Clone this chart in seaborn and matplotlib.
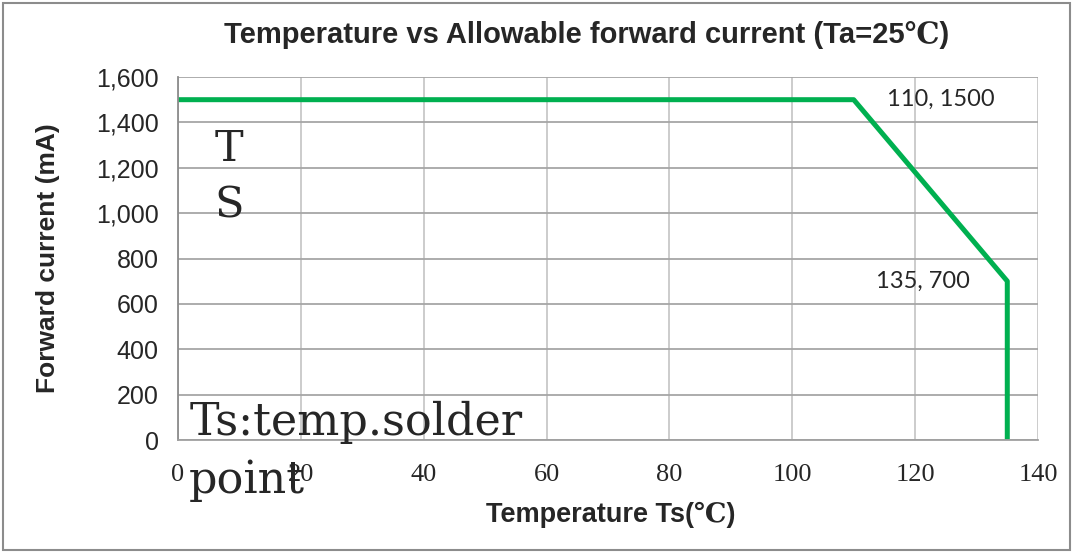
import matplotlib
matplotlib.use("Agg")
import matplotlib.pyplot as plt
import seaborn as sns
import pandas as pd
from matplotlib.ticker import FuncFormatter
from matplotlib.patches import Rectangle

temperature = [0, 110, 135, 135]
current = [1500, 1500, 700, 0]
x_ticks = [0, 20, 40, 60, 80, 100, 120, 140]
y_ticks = [0, 200, 400, 600, 800, 1000, 1200, 1400, 1600]
labels_pts = [("110, 1500", 110, 1500), ("135, 700", 135, 700)]

sns.set_style("white")
plt.rcParams['font.family'] = ['Liberation Sans', 'DejaVu Sans']

df = pd.DataFrame({"Temperature": temperature, "Current": current})

W, H = 1073, 553
fig = plt.figure(figsize=(W / 100, H / 100), dpi=100)
ax = fig.add_axes([178 / W, 1 - 440 / H, (1038 - 178) / W, (440 - 77) / H])
sns.lineplot(data=df, x="Temperature", y="Current", sort=False, ax=ax,
             color="#00B050", linewidth=3.6, estimator=None)

ax.set_xlim(0, 140)
ax.set_ylim(0, 1600)
ax.set_xticks(x_ticks)
ax.set_yticks(y_ticks)
ax.yaxis.set_major_formatter(FuncFormatter(lambda v, p: f"{int(v):,}"))
ax.yaxis.grid(True, color="#a6a6a6", linewidth=1.3)
ax.xaxis.grid(True, color="#c8c8c8", linewidth=1.3)
ax.set_axisbelow(True)
for s in ["top", "right"]:
    ax.spines[s].set_visible(False)
ax.spines["left"].set_color("#8c8c8c")
ax.spines["bottom"].set_color("#a0a0a0")
for s in ["left", "bottom"]:
    ax.spines[s].set_linewidth(1.3)
ax.tick_params(axis="both", length=0)
ax.tick_params(axis="y", labelsize=18, pad=14)
for lbl in ax.get_xticklabels():
    lbl.set_fontfamily(["Liberation Serif", "DejaVu Serif"])
    lbl.set_fontsize(19)
ax.tick_params(axis="x", pad=17)

mixed = ["Liberation Sans", "DejaVu Serif"]
ax.set_xlabel("Temperature Ts(℃)", fontsize=19.5, fontweight="bold", family=mixed)
ax.set_ylabel("Forward current (mA)", fontsize=19, fontweight="bold")
ax.xaxis.set_label_coords((611 - 178) / 860, (440 - 515) / 363)
ax.yaxis.set_label_coords((48 - 178) / 860, 0.5)
ax.xaxis.label.set_va("center")
ax.yaxis.label.set_va("center")
fig.text(587 / W, 1 - 35 / H, "Temperature vs Allowable forward current (Ta=25℃)",
         fontsize=21, fontweight="bold", ha="center", va="center", family=mixed)

# data labels
lab_font = ["Lato", "DejaVu Sans"]
ax.annotate(labels_pts[0][0], (labels_pts[0][1], labels_pts[0][2]), xytext=(63, 0),
            textcoords="offset points", fontsize=17, family=lab_font,
            ha="center", va="center")
ax.annotate(labels_pts[1][0], (labels_pts[1][1], labels_pts[1][2]), xytext=(-61, 0),
            textcoords="offset points", fontsize=17, family=lab_font,
            ha="center", va="center")

serif = ["DejaVu Serif", "Liberation Serif"]
fig.text(229 / W, 1 - 161 / H, "T", fontsize=31, family=serif,
         ha="center", va="baseline")
fig.text(229 / W, 1 - 217 / H, "S", fontsize=31, family=serif,
         ha="center", va="baseline")
fig.text(190 / W, 1 - 435 / H, "Ts:temp.solder", fontsize=32, family=serif,
         ha="left", va="baseline")
fig.text(189 / W, 1 - 493 / H, "point", fontsize=32, family=serif,
         ha="left", va="baseline")

fig.patches.append(Rectangle((3 / W, 3 / H), 1 - 6 / W, 1 - 6 / H, transform=fig.transFigure,
                             fill=False, edgecolor="#8c8c8c", linewidth=1.5))

fig.savefig("out.png", dpi=100)
